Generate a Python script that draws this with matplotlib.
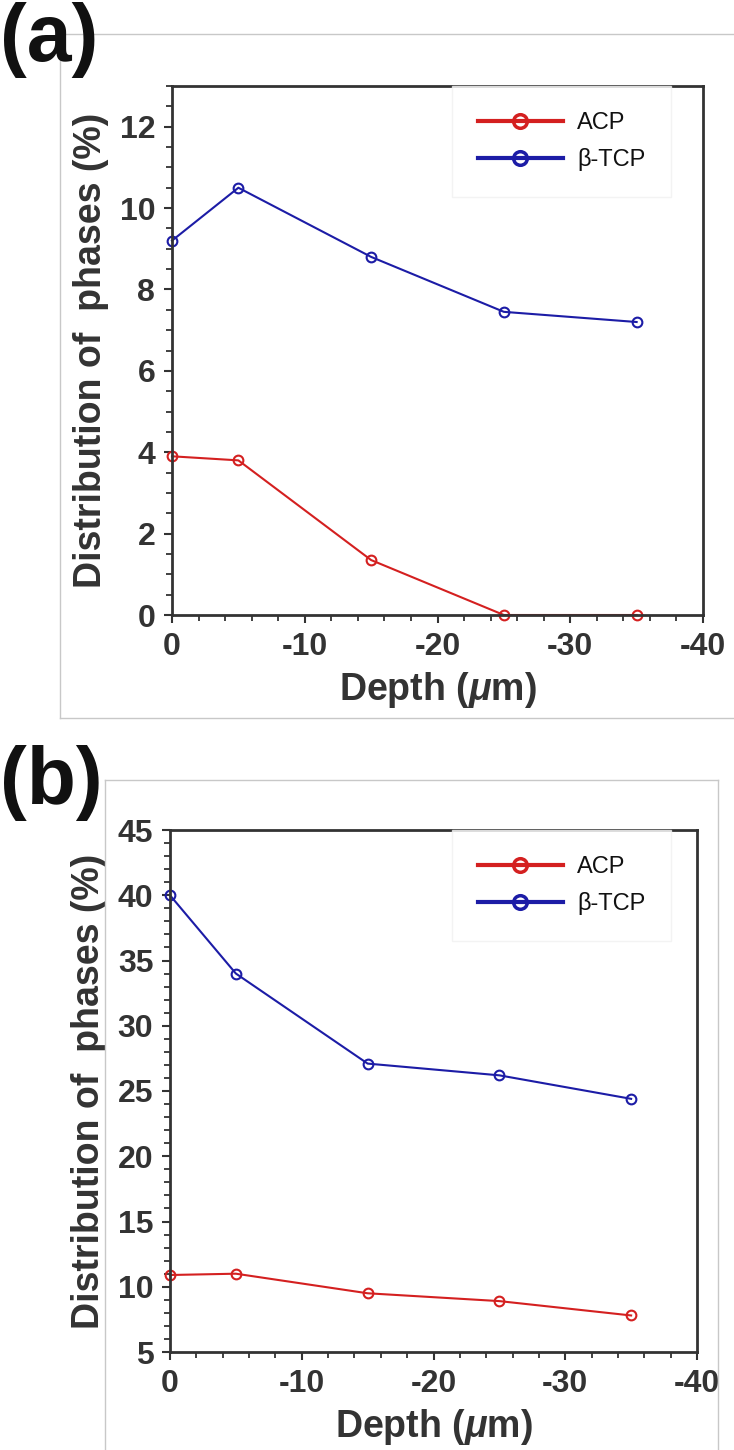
import matplotlib.pyplot as plt
from matplotlib.lines import Line2D
from matplotlib.ticker import MultipleLocator

# data
depth = [0, -5, -15, -25, -35]
acp_a = [3.9, 3.8, 1.35, 0.0, 0.0]
tcp_a = [9.2, 10.5, 8.8, 7.45, 7.2]
acp_b = [10.9, 11.0, 9.5, 8.9, 7.8]
tcp_b = [40.0, 34.0, 27.1, 26.2, 24.4]

RED = '#d42020'
BLUE = '#1c1ca6'
INK = '#333333'
W, H = 734, 1450

plt.rcParams['font.family'] = ['Liberation Sans', 'DejaVu Sans']
plt.rcParams['font.weight'] = 'bold'
plt.rcParams['axes.unicode_minus'] = False
plt.rcParams['mathtext.fontset'] = 'custom'
plt.rcParams['mathtext.it'] = 'Liberation Sans:italic'
plt.rcParams['mathtext.rm'] = 'Liberation Sans:bold'

fig = plt.figure(figsize=(W / 100, H / 100), dpi=100, facecolor='white')


def box(l, t, r, b):
    return [l / W, 1 - b / H, (r - l) / W, (b - t) / H]


# light frame lines around each panel (screenshot borders)
def gline(x0, y0, x1, y1):
    fig.add_artist(Line2D([x0 / W, x1 / W], [1 - y0 / H, 1 - y1 / H],
                          color='#c8c8c8', lw=1.0, transform=fig.transFigure))


gline(60, 34, 734, 34)
gline(60, 34, 60, 718)
gline(60, 718, 734, 718)
gline(105, 780, 718, 780)
gline(105, 780, 105, 1450)
gline(718, 780, 718, 1450)

panels = [
    dict(rect=box(172, 86, 703, 615), acp=acp_a, tcp=tcp_a, ylim=(0, 13),
         major=2, minor=0.5, label='(a)', ly=2, lx=0.527),
    dict(rect=box(170, 830, 697, 1352), acp=acp_b, tcp=tcp_b, ylim=(5, 45),
         major=5, minor=1, label='(b)', ly=745, lx=0.535),
]

for p in panels:
    ax = fig.add_axes(p['rect'])
    ax.plot(depth, p['acp'], color=RED, lw=1.5, marker='o', ms=7,
            mfc='none', mec=RED, mew=1.5, label='ACP', clip_on=False)
    ax.plot(depth, p['tcp'], color=BLUE, lw=1.5, marker='o', ms=7,
            mfc='none', mec=BLUE, mew=1.5, label='β-TCP', clip_on=False)

    ax.set_xlim(0, -40)
    ax.set_ylim(*p['ylim'])
    ax.xaxis.set_major_locator(MultipleLocator(10))
    ax.xaxis.set_minor_locator(MultipleLocator(2))
    ax.yaxis.set_major_locator(MultipleLocator(p['major']))
    ax.yaxis.set_minor_locator(MultipleLocator(p['minor']))
    ax.tick_params(which='major', direction='out', length=6, width=1.5,
                   labelsize=23, pad=6, color=INK, labelcolor=INK)
    ax.tick_params(which='minor', direction='out', length=4, width=1.3,
                   color=INK)
    for s in ax.spines.values():
        s.set_linewidth(2)
        s.set_color(INK)

    ax.set_xlabel(r'Depth ($\mu$m)', fontsize=27, fontweight='bold',
                  color=INK, labelpad=6)
    ax.set_ylabel('Distribution of  phases (%)', fontsize=27,
                  fontweight='bold', color=INK, labelpad=8)

    leg = ax.legend(loc='upper left', bbox_to_anchor=(p['lx'], 1.0),
                    borderaxespad=0, fontsize=17, frameon=True,
                    fancybox=False, handlelength=3.6, handletextpad=0.6,
                    borderpad=1.1, labelspacing=0.6, markerscale=1.4)
    leg.get_frame().set_edgecolor('#f0f0f0')
    for ln in leg.get_lines():
        ln.set_linewidth(3)
        ln.set_markeredgewidth(2.5)
    for t in leg.get_texts():
        t.set_fontweight('normal')
        t.set_color('#111111')

    fig.text(0 / W, 1 - p['ly'] / H, p['label'], fontsize=58,
             fontweight='bold', ha='left', va='top', color='#111111')

fig.savefig('out.png', dpi=100, facecolor='white')
